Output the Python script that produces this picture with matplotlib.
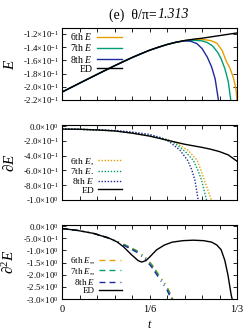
import math
import matplotlib
matplotlib.use("Agg")
import matplotlib.pyplot as plt
from matplotlib.ticker import FixedLocator, FuncFormatter

plt.rcParams["font.family"] = ["Liberation Serif", "DejaVu Serif"]
plt.rcParams["mathtext.fontset"] = "custom"
plt.rcParams["mathtext.rm"] = "Liberation Serif"
plt.rcParams["mathtext.it"] = "Liberation Serif:italic"
plt.rcParams["mathtext.bf"] = "Liberation Serif:bold"

# ---- panel 1: E ----
t_E_ed = [0, .0167, .0333, .05, .0667, .0833, .1, .1167, .1333, .15, .1667,
          .1833, .2, .2167, .2333, .25, .2667, .2833, .3, .3167, .3333]
E_ed = [-0.2080, -0.2013, -0.1946, -0.1879, -0.1813, -0.1747, -0.1682, -0.1619,
        -0.1558, -0.1500, -0.1447, -0.1400, -0.1360, -0.1327, -0.1300, -0.1280,
        -0.1265, -0.1245, -0.1225, -0.1205, -0.1185]
t_E_8 = [0, .0333, .0667, .1, .1333, .1667, .2, .2167, .2333, .245, .2567,
         .2667, .2767, .285, .2917, .2983]
E_8 = [-0.2080, -0.1946, -0.1813, -0.1682, -0.1558, -0.1447, -0.1360, -0.1325,
       -0.1305, -0.1310, -0.1345, -0.1420, -0.1550, -0.1700, -0.1880, -0.2220]
t_E_7 = [0, .0333, .0667, .1, .1333, .1667, .2, .2167, .2333, .25, .2667,
         .2767, .2867, .2967, .3033, .31, .3167, .3217]
E_7 = [-0.2080, -0.1946, -0.1813, -0.1682, -0.1558, -0.1447, -0.1360, -0.1327,
       -0.1302, -0.1295, -0.1305, -0.1330, -0.1380, -0.1480, -0.1580, -0.1720,
       -0.1920, -0.2220]
t_E_6 = [0, .0333, .0667, .1, .1333, .1667, .2, .2167, .2333, .25, .2667,
         .2833, .295, .305, .3133, .32, .3267, .3317, .3333]
E_6 = [-0.2080, -0.1946, -0.1813, -0.1682, -0.1558, -0.1447, -0.1360, -0.1327,
       -0.1300, -0.1285, -0.1283, -0.1300, -0.1340, -0.1450, -0.1620, -0.1720,
       -0.1870, -0.2050, -0.2210]

# ---- panel 2: dE ----
t_dE_ed = [0, .0333, .0667, .1, .1333, .1667, .2, .2333, .2667, .2833, .3,
           .3167, .3333]
dE_ed = [-0.040, -0.043, -0.052, -0.065, -0.095, -0.135, -0.190, -0.245,
         -0.288, -0.313, -0.345, -0.390, -0.475]
t_dE_8 = [0, .0333, .0667, .1, .1333, .1667, .19, .2057, .2248, .2394, .2476,
          .2533, .2596]
dE_8 = [-0.040, -0.043, -0.050, -0.060, -0.080, -0.112, -0.160, -0.218,
        -0.327, -0.464, -0.600, -0.737, -1.010]
t_dE_7 = [0, .0333, .0667, .1, .1333, .1667, .2, .2133, .2343, .2501, .259,
          .2661, .2756]
dE_7 = [-0.040, -0.043, -0.052, -0.063, -0.090, -0.128, -0.182, -0.225,
        -0.341, -0.464, -0.600, -0.737, -1.010]
t_dE_6 = [0, .0333, .0667, .1, .1333, .1667, .2, .2171, .24, .2577, .2648,
          .2714, .2851]
dE_6 = [-0.040, -0.043, -0.052, -0.064, -0.092, -0.130, -0.184, -0.228,
        -0.327, -0.464, -0.600, -0.737, -1.010]

# ---- panel 3: d2E ----
t_d2E_ed = [0, .03, .06, .09, .105, .117, .133, .145, .152, .16, .168, .18,
            .195, .21, .23, .25, .27, .285, .295, .303, .31, .316, .322, .325]
d2E_ed = [-0.10, -0.18, -0.30, -0.50, -0.65, -0.85, -1.19, -1.42, -1.48, -1.42,
          -1.25, -0.98, -0.78, -0.66, -0.60, -0.58, -0.60, -0.66, -0.78, -0.97,
          -1.40, -2.00, -2.80, -3.10]
t_d2E_8 = [0, .03, .06, .09, .117, .142, .158, .172, .185, .199, .209]
d2E_8 = [-0.10, -0.18, -0.30, -0.50, -0.78, -1.07, -1.35, -1.72, -2.15, -2.58,
         -3.05]
t_d2E_7 = [0, .03, .06, .09, .117, .142, .158, .172, .185, .199, .211]
d2E_7 = [-0.10, -0.18, -0.30, -0.49, -0.75, -1.02, -1.27, -1.64, -2.06, -2.48,
         -3.05]
t_d2E_6 = [0, .03, .06, .09, .117, .142, .158, .172, .185, .199, .212]
d2E_6 = [-0.10, -0.18, -0.30, -0.49, -0.74, -1.00, -1.25, -1.60, -2.02, -2.44,
         -3.05]

x_ticks = [k / 30 for k in range(11)]
x_tick_labels = {0: "0", 5: "1/6", 10: "1/3"}

C6, C7, C8, CED = "#e69f00", "#009e73", "#1f2a9a", "black"
dash3 = (0, (4.3, 2.9, 4.3, 3.6, 0.7, 2.9, 0.7, 3.6))
dot2 = (0, (1.0, 1.2))


def sci(v, pos):
    if abs(v) < 1e-12:
        return "0.0×10$^{0}$"
    e = math.floor(math.log10(abs(v)) + 1e-9)
    m = v / 10 ** e
    return f"{m:.1f}×10$^{{{e}}}$"


def style(ax, yticks, ylim):
    ax.set_xlim(0, 1 / 3)
    ax.set_ylim(*ylim)
    ax.xaxis.set_major_locator(FixedLocator(x_ticks))
    ax.yaxis.set_major_locator(FixedLocator(yticks))
    ax.yaxis.set_major_formatter(FuncFormatter(sci))
    ax.set_xticklabels([])
    ax.tick_params(direction="in", top=True, right=True, length=3, width=0.6,
                   labelsize=6.3, pad=2.5)
    for s in ax.spines.values():
        s.set_linewidth(0.8)
    ax.yaxis.set_label_coords(-0.255, 0.5)


W, H = 249, 331
fig = plt.figure(figsize=(W / 100, H / 100), dpi=100)
left, width = 62 / W, 175 / W
ax1 = fig.add_axes([left, 1 - 100 / H, width, 72 / H])
ax2 = fig.add_axes([left, 1 - 200 / H, width, 75 / H])
ax3 = fig.add_axes([left, 1 - 299 / H, width, 74 / H])

lw = 1.0
ax1.plot(t_E_6, E_6, color=C6, lw=lw, label="6th $E$")
ax1.plot(t_E_7, E_7, color=C7, lw=lw, label="7th $E$")
ax1.plot(t_E_8, E_8, color=C8, lw=lw, label="8th $E$")
ax1.plot(t_E_ed, E_ed, color=CED, lw=lw, label="ED")
style(ax1, [-0.22 + 0.02 * k for k in range(6)], (-0.22, -0.111))
ax1.set_ylabel("$E$", fontsize=11)

ax2.plot(t_dE_6, dE_6, color=C6, lw=lw, ls=dot2, label="6th $E$,")
ax2.plot(t_dE_7, dE_7, color=C7, lw=lw, ls=dot2, label="7th $E$.")
ax2.plot(t_dE_8, dE_8, color=C8, lw=lw, ls=dot2, label="8th $E$")
ax2.plot(t_dE_ed, dE_ed, color=CED, lw=lw, label="ED")
style(ax2, [-1.0 + 0.2 * k for k in range(6)], (-1.0, 0.015))
ax2.set_ylabel(r"$\partial E$", fontsize=11)

ax3.plot(t_d2E_6, d2E_6, color=C6, lw=lw, ls=dash3, label="6th $E$,,")
ax3.plot(t_d2E_7, d2E_7, color=C7, lw=lw, ls=dash3, label="7th $E$,,")
ax3.plot(t_d2E_8, d2E_8, color=C8, lw=lw, ls=dash3, label="8th $E$")
ax3.plot(t_d2E_ed, d2E_ed, color=CED, lw=lw, label="ED")
style(ax3, [-3.0 + 0.5 * k for k in range(7)], (-3.0, 0.045))
ax3.set_xticklabels([x_tick_labels.get(k, "") for k in range(11)])
ax3.tick_params(axis="x", labelsize=7.5, pad=4)
ax3.set_ylabel(r"$\partial^2 E$", fontsize=11)
ax3.set_xlabel("$t$", fontsize=8.5)
ax3.xaxis.set_label_coords(0.5, -0.27)

leg_kw = dict(frameon=False, markerfirst=False, handlelength=2.6,
              handletextpad=0.4, borderpad=0.1, borderaxespad=0)
ax1.legend(loc="upper left", bbox_to_anchor=(0.04, 0.97), fontsize=7,
           labelspacing=0.02, **leg_kw)
ax2.legend(loc="lower left", bbox_to_anchor=(0.04, 0.06), fontsize=6.8,
           labelspacing=-0.02, **leg_kw)
ax3.legend(loc="lower left", bbox_to_anchor=(0.04, 0.04), fontsize=6.5,
           labelspacing=0.0, **leg_kw)

fig.text(157 / W, 1 - 15 / H, "(e)  θ/π=", ha="right", va="center",
         fontsize=10)
fig.text(157 / W, 1 - 15 / H, "1.313", ha="left", va="center",
         fontsize=10, fontstyle="italic")

fig.savefig("out.png", dpi=100)
plt.close(fig)
